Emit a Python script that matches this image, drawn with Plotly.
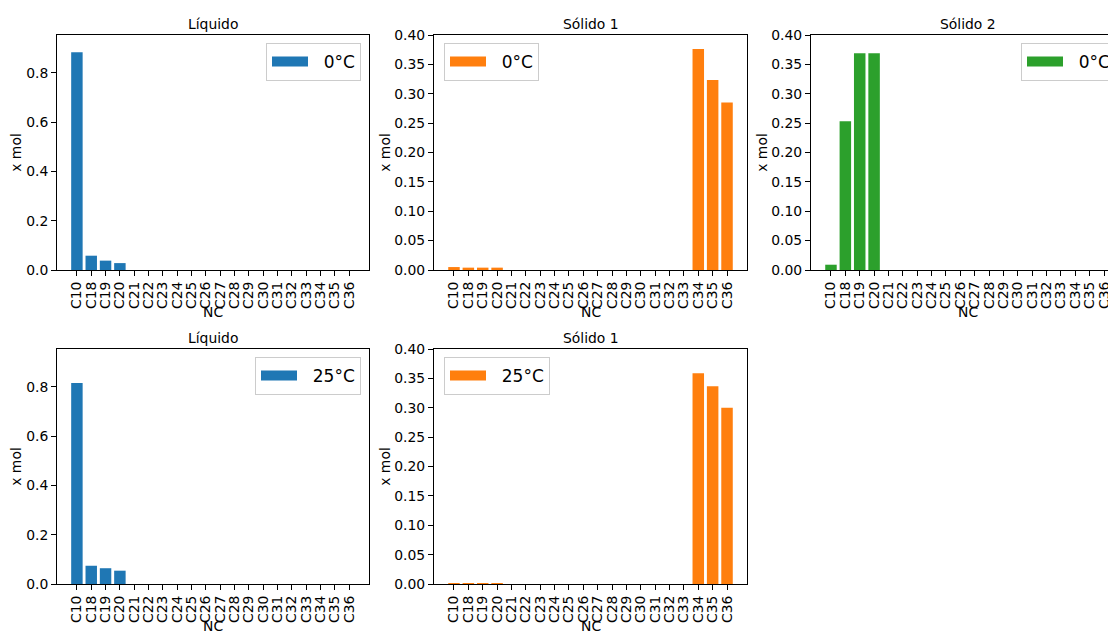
import plotly.graph_objects as go

categories = ["C10", "C18", "C19", "C20", "C21", "C22", "C23", "C24", "C25", "C26",
              "C27", "C28", "C29", "C30", "C31", "C32", "C33", "C34", "C35", "C36"]

liquido_0 = [0.883, 0.058, 0.038, 0.028, 0, 0, 0, 0, 0, 0, 0, 0, 0, 0, 0, 0, 0, 0, 0, 0]
solido1_0 = [0.005, 0.004, 0.004, 0.004, 0, 0, 0, 0, 0, 0, 0, 0, 0, 0, 0, 0, 0, 0.376, 0.3235, 0.285]
solido2_0 = [0.009, 0.253, 0.369, 0.369, 0, 0, 0, 0, 0, 0, 0, 0, 0, 0, 0, 0, 0, 0, 0, 0]
liquido_25 = [0.815, 0.074, 0.064, 0.054, 0, 0, 0, 0, 0, 0, 0, 0, 0, 0, 0, 0, 0, 0, 0, 0]
solido1_25 = [0.001, 0.001, 0.001, 0.001, 0, 0, 0, 0, 0, 0, 0, 0, 0, 0, 0, 0, 0, 0.3586, 0.3365, 0.300]

titles = ["Líquido", "Sólido 1", "Sólido 2", "Líquido", "Sólido 1"]
temps = ["0°C", "0°C", "0°C", "25°C", "25°C"]
series = [liquido_0, solido1_0, solido2_0, liquido_25, solido1_25]
colors = ["#1f77b4", "#ff7f0e", "#2ca02c", "#1f77b4", "#ff7f0e"]
x_title = "NC"
y_title = "x mol"

W, H = 1116, 631
OFF = 8  # page body margin
FONT = "DejaVu Sans"
TICK = 13.9

# panel pixel boxes in page coordinates: (left, right, top, bottom)
boxes = [(57, 369, 35, 270), (434, 747, 35, 270), (811, 1124, 35, 270),
         (57, 369, 349, 584), (434, 747, 349, 584)]
yranges = [[0, 0.953], [0, 0.40], [0, 0.40], [0, 0.953], [0, 0.40]]
legend_pos = [(361, 43, "right"), (444, 43, "left"), (1021, 43, "left"),
              (361, 357, "right"), (444, 357, "left")]


def px(x):
    return (x - OFF) / W


def py(y):
    return 1 - (y - OFF) / H


fig = go.Figure()
layout = dict(template="none", width=W, height=H, margin=dict(l=0, r=0, t=0, b=0),
              paper_bgcolor="white", plot_bgcolor="white",
              font=dict(family=FONT, size=TICK, color="black"),
              bargap=0.2, annotations=[])

for i in range(5):
    n = "" if i == 0 else str(i + 1)
    lg = "legend" if i == 0 else "legend" + str(i + 1)
    fig.add_trace(go.Bar(x=categories, y=series[i], marker=dict(color=colors[i], line=dict(width=0)),
                         xaxis="x" + n, yaxis="y" + n, showlegend=False, name=temps[i]))
    fig.add_trace(go.Scatter(x=[None], y=[None], mode="lines", name="\u00a0\u00a0" + temps[i],
                             line=dict(color=colors[i], width=12),
                             xaxis="x" + n, yaxis="y" + n, showlegend=True, legend=lg))
    l, r, t, b = boxes[i]
    solid = i in (1, 2, 4)
    layout["xaxis" + n] = dict(domain=[px(l), min(px(r), 1.0)], anchor="y" + n, type="category",
                               range=[-1.39, 20.39], tickmode="linear", tick0=0, dtick=1,
                               tickangle=-90, ticks="outside", ticklen=5, automargin=False,
                               tickcolor="black", showline=True, linecolor="black", linewidth=1,
                               mirror=True, showgrid=False, zeroline=False,
                               tickfont=dict(size=TICK))
    layout["yaxis" + n] = dict(domain=[py(b), py(t)], anchor="x" + n, range=yranges[i],
                               dtick=0.05 if solid else 0.2, tickformat=".2f" if solid else ".1f",
                               ticks="outside", ticklen=5, tickcolor="black", showline=True,
                               automargin=False,
                               linecolor="black", linewidth=1, mirror=True, showgrid=False,
                               zeroline=False, tickfont=dict(size=TICK),
                               title=dict(text=y_title, font=dict(size=TICK),
                                          standoff=0 if solid else 6))
    lx, ly, anc = legend_pos[i]
    layout[lg] = dict(x=px(lx), y=py(ly), xanchor=anc, yanchor="top",
                      bgcolor="rgba(255,255,255,0.8)", bordercolor="#cccccc", borderwidth=1,
                      font=dict(size=17, family=FONT), itemwidth=36)
    layout["annotations"].append(dict(text=titles[i], x=px((l + r) / 2),
                                      y=py(t - 1), xref="paper", yref="paper",
                                      xanchor="center", yanchor="bottom", showarrow=False,
                                      font=dict(size=TICK)))
    layout["annotations"].append(dict(text=x_title, x=px((l + r) / 2),
                                      y=py(b + 42), xref="paper", yref="paper",
                                      xanchor="center", yanchor="middle", showarrow=False,
                                      font=dict(size=TICK)))

fig.update_layout(**layout)
fig.write_html("out.html")
